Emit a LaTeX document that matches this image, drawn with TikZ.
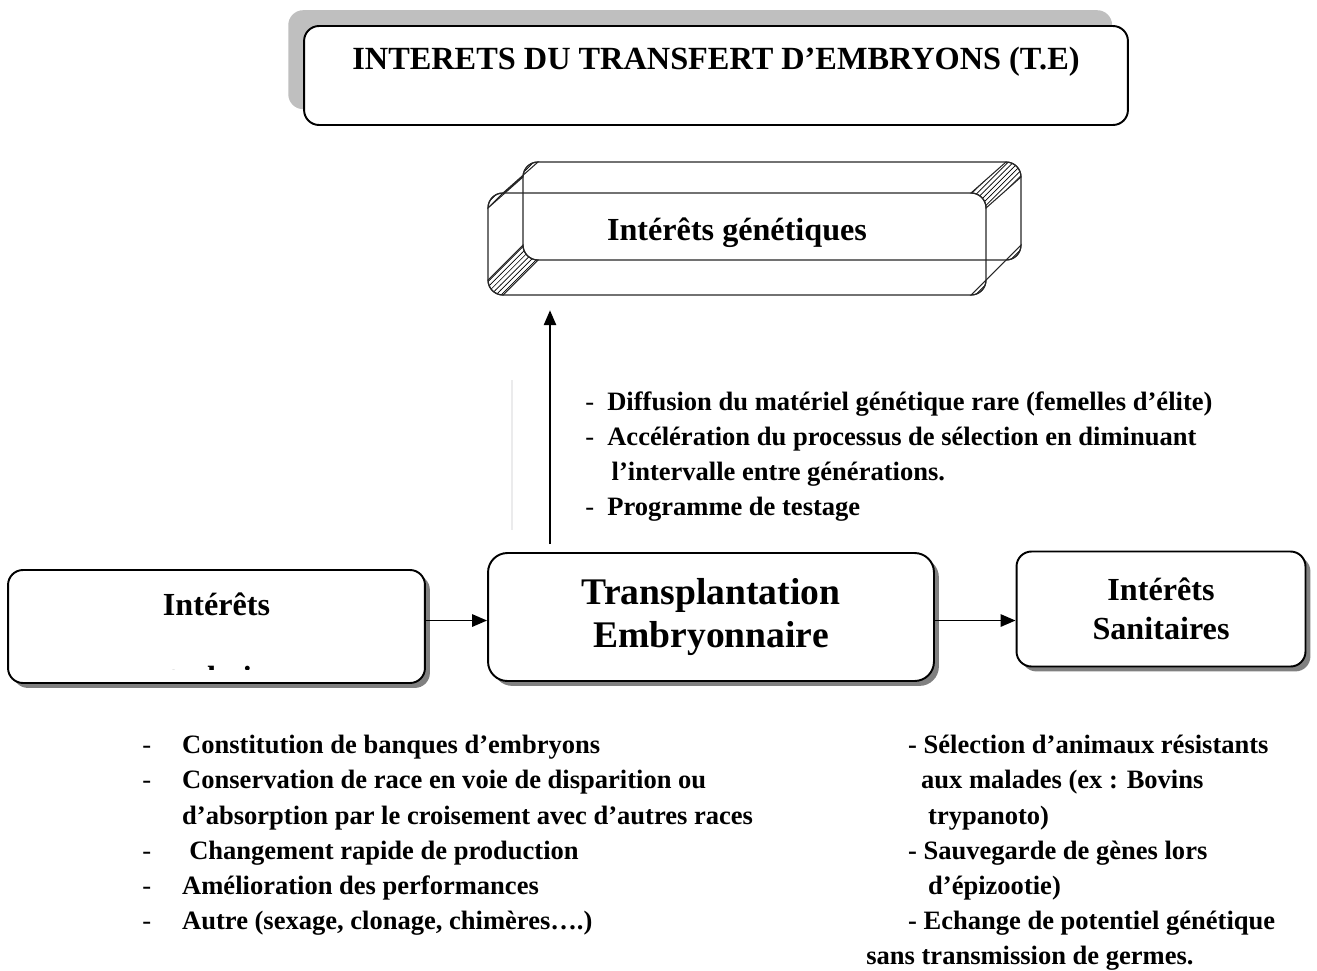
\documentclass[tikz,border=0pt]{standalone}
\usepackage{fontspec}
\setmainfont{Liberation Serif}
\usetikzlibrary{arrows.meta,positioning,shadows,patterns}

\tikzset{
  box/.style={draw, line width=1.1pt, rounded corners=8.5pt, fill=white, inner sep=0pt,
    align=center, font=\bfseries\fontsize{18.3}{22.5}\selectfont},
  ombre/.style={drop shadow={shadow xshift=2.8pt, shadow yshift=-2.8pt, fill=black!50, opacity=1}},
  arr/.style={line width=1.1pt, -{Triangle[length=8.5pt, width=7pt]}},
  hatch/.style={pattern=north east lines, draw=black!85, line width=0.6pt},
  liste/.style={inner sep=0pt, anchor=north west, align=left,
    font=\bfseries\fontsize{15.1}{20}\selectfont}
}
\newcommand{\tiret}[1]{\makebox[#1][l]{\mdseries-}}

\begin{document}
\begin{tikzpicture}[x=0.02cm, y=-0.02cm]
  \useasboundingbox (0,0) rectangle (1317,970);

  % titre
  \node[box, font=\bfseries\fontsize{18.4}{22.5}\selectfont, text height=13pt, text depth=20pt,
    minimum width=16.48cm, minimum height=1.98cm,
    drop shadow={shadow xshift=-9pt, shadow yshift=9pt, fill=black!25, opacity=1}]
    (titre) at (716,75.5) {INTERETS DU TRANSFERT D’EMBRYONS (T.E)};

  % boite en relief
  \begin{scope}[line width=0.7pt, draw=black!85]
    \draw[hatch] (488,208) arc[start angle=180, end angle=270, radius=15] -- (538,162)
      arc[start angle=270, end angle=180, radius=15] -- cycle;
    \draw[hatch] (971,193) arc[start angle=270, end angle=360, radius=15] -- (1021,177)
      arc[start angle=360, end angle=270, radius=15] -- cycle;
    \draw[hatch] (488,280) arc[start angle=180, end angle=90, radius=15] -- (538,260)
      arc[start angle=90, end angle=180, radius=15] -- cycle;
    \draw[hatch] (986,280) arc[start angle=0, end angle=90, radius=15] -- (1006,260)
      arc[start angle=90, end angle=0, radius=15] -- cycle;
    \draw[rounded corners=8.5pt] (488,193) rectangle (986,295);
    \draw[rounded corners=8.5pt] (523,162) rectangle (1021,260);
  \end{scope}
  \node[inner sep=0pt, text height=13pt, text depth=17.5pt, minimum width=9.96cm, minimum height=2.04cm,
    font=\bfseries\fontsize{18.3}{22.5}\selectfont] (gen) at (737,244) {Intérêts génétiques};

  % boites du bas
  \node[box, ombre, rounded corners=11pt, minimum width=8.92cm, minimum height=2.56cm,
    font=\bfseries\fontsize{21.4}{24.4}\selectfont] (te) at (711,617) {Transplantation\\Embryonnaire};
  \node[box, ombre, text height=13pt, text depth=26pt, minimum width=8.34cm, minimum height=2.26cm]
    (zoo) at (216.5,626.5) {Intérêts};
  \begin{scope}
    \clip (10,572) rectangle (423,669);
    \node[anchor=base, inner sep=0pt, font=\bfseries\fontsize{18.3}{22.5}\selectfont]
      (zootxt) at (218,688) {zootechniques};
  \end{scope}
  \node[box, ombre, minimum width=5.78cm, minimum height=2.3cm] (sani) at (1161,609) {Intérêts\\Sanitaires};

  % fleches
  \coordinate (ax) at (550,0);
  \draw[arr, shorten <=4.5pt, shorten >=8.5pt] (te.north -| ax) -- (gen.south -| ax);
  \draw[arr] ([yshift=-2pt]zoo.east |- te.west) -- ([yshift=-2pt]te.west);
  \draw[arr] ([yshift=-2pt]te.east) -- ([yshift=-2pt]sani.west |- te.east);
  \draw[blue!8!black!8, line width=0.8pt] (512,380) -- (512,530);

  % listes
  \node[liste] (lgen) at (585,391) {%
    \tiret{12.5pt}Diffusion du matériel génétique rare (femelles d’élite)\\
    \tiret{12.5pt}Accélération du processus de sélection en diminuant\\
    \hspace*{15pt}l’intervalle entre générations.\\
    \tiret{12.5pt}Programme de testage};
  \node[liste] (lzoo) at (142,735) {%
    \tiret{22.7pt}Constitution de banques d’embryons\\
    \tiret{22.7pt}Conservation de race en voie de disparition ou\\
    \hspace*{22.7pt}d’absorption par le croisement avec d’autres races\\
    \tiret{22.7pt}\hspace*{4pt}Changement rapide de production\\
    \tiret{22.7pt}Amélioration des performances\\
    \tiret{22.7pt}Autre (sexage, clonage, chimères….)};
  \node[liste] (lsani) at (866,735) {%
    \hspace*{23.8pt}- Sélection d’animaux résistants\\
    \hspace*{31.2pt}aux malades (ex : Bovins\\
    \hspace*{35.2pt}trypanoto)\\
    \hspace*{23.8pt}- Sauvegarde de gènes lors\\
    \hspace*{35.2pt}d’épizootie)\\
    \hspace*{23.8pt}- Echange de potentiel génétique\\
    sans transmission de germes.};
\end{tikzpicture}
\end{document}
